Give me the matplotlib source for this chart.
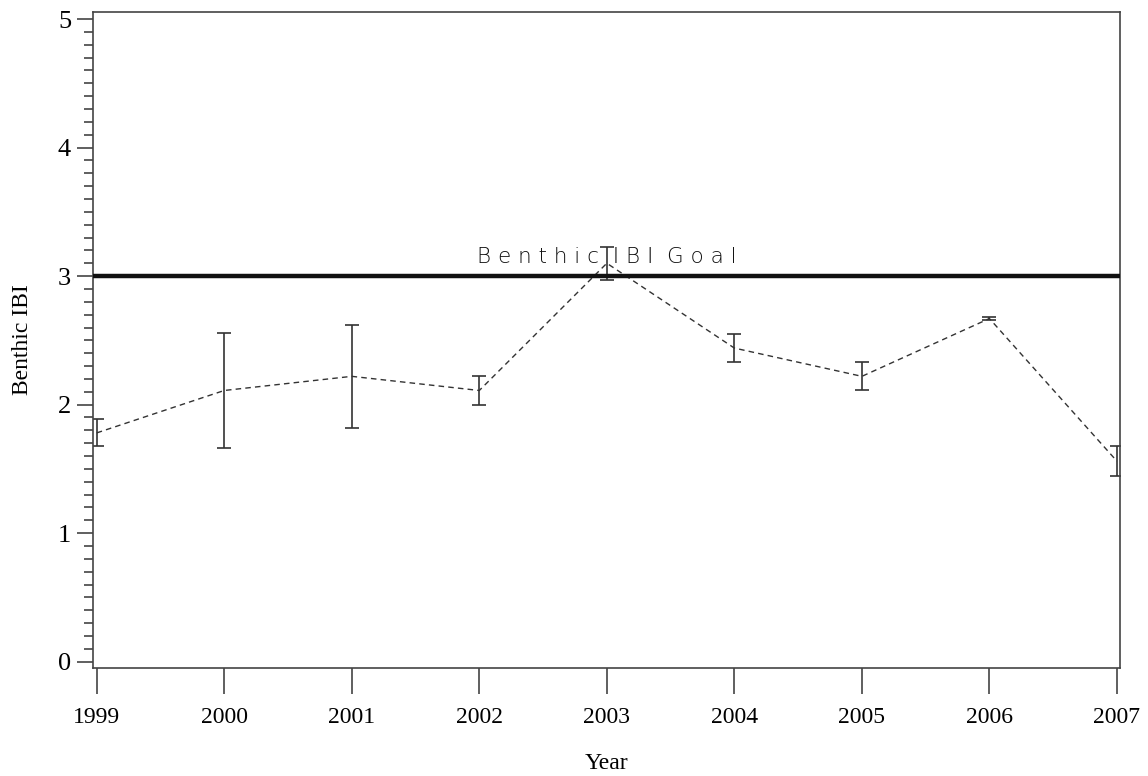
import numpy as np
import matplotlib
matplotlib.use("Agg")
import matplotlib.pyplot as plt
from matplotlib.ticker import MultipleLocator

years = [1999, 2000, 2001, 2002, 2003, 2004, 2005, 2006, 2007]
ibi_mean = [1.78, 2.11, 2.22, 2.11, 3.10, 2.44, 2.22, 2.67, 1.56]
ibi_err = [0.105, 0.445, 0.40, 0.11, 0.13, 0.11, 0.11, 0.01, 0.115]
goal = 3.0

fig = plt.figure(figsize=(11.48, 7.76), dpi=100)
ax = fig.add_axes([0.0806, 0.1396, 0.8950, 0.8454])

ax.axhline(goal, color="#111111", lw=3.2, zorder=3)
ax.errorbar(years, ibi_mean, yerr=ibi_err, fmt="none", ecolor="#333333",
            elinewidth=1.2, capsize=5, capthick=1.2, zorder=2)
ax.plot(years, ibi_mean, color="#333333", lw=1.0, ls=(0, (4, 3)), zorder=2)

ax.text(2003, goal + 0.07, "B e n t h i c  I B I  G o a l", ha="center",
        va="bottom", fontsize=15.5, family="DejaVu Sans", color="#111111",
        fontweight="light")

ax.set_xlim(1998.967, 2007.024)
ax.set_ylim(-0.047, 5.058)
ax.set_xticks(years)
ax.set_xticklabels([str(y) for y in years])
ax.yaxis.set_major_locator(MultipleLocator(1))
ax.yaxis.set_minor_locator(MultipleLocator(0.1))

for s in ax.spines.values():
    s.set_color("#444444")
    s.set_linewidth(1.2)

ax.tick_params(axis="y", which="major", length=11.5, width=1.2, color="#444444",
               pad=4, labelsize=19)
ax.tick_params(axis="y", which="minor", length=6.5, width=1.2, color="#444444")
ax.tick_params(axis="x", which="major", length=19, width=1.2, color="#444444",
               pad=9, labelsize=17)
for lab in ax.get_xticklabels() + ax.get_yticklabels():
    lab.set_family("Liberation Serif")

ax.set_xlabel("Year", family="Liberation Serif", fontsize=17, labelpad=18)
ax.set_ylabel("Benthic IBI", family="Liberation Serif", fontsize=17, labelpad=18)

fig.savefig("out.png", dpi=100)
